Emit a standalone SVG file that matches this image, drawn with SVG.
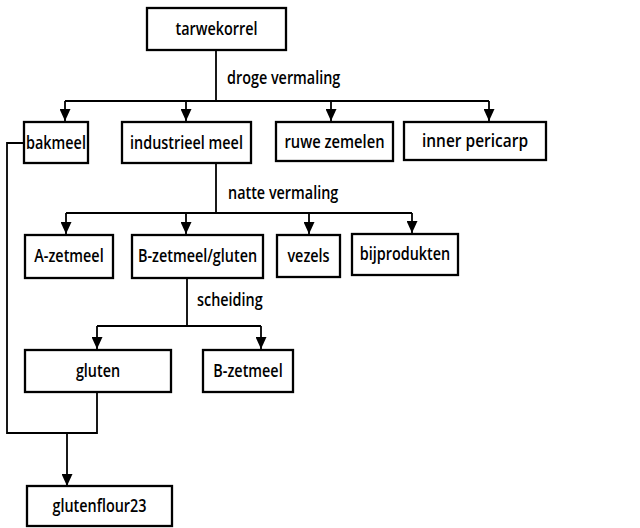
<svg xmlns="http://www.w3.org/2000/svg" width="640" height="528" viewBox="0 0 640 528">
  <style>
    .box { fill: #ffffff; stroke: #000000; stroke-width: 2.3; }
    .lbl { font-family: "Open Sans", "Noto Sans", "DejaVu Sans", sans-serif; font-size: 18px; font-weight: 600; fill: #000000; text-anchor: middle; }
    .step { font-family: "Open Sans", "Noto Sans", "DejaVu Sans", sans-serif; font-size: 18px; font-weight: 600; fill: #000000; }
    .wire { fill: none; stroke: #000000; stroke-width: 1.8; }
  </style>
  <defs>
    <marker id="arrow" viewBox="0 0 12 11" refX="12" refY="5.5" markerWidth="12" markerHeight="11" markerUnits="userSpaceOnUse" orient="auto">
      <path d="M0,0 L12,5.5 L0,11 Z" fill="#000000"/>
    </marker>
  </defs>
  <rect width="640" height="528" fill="#ffffff"/>

  <!-- connectors -->
  <g id="connectors">
    <!-- droge vermaling -->
    <path class="wire" d="M216,50 V101"/>
    <path class="wire" d="M65,101 H489"/>
    <path class="wire" d="M65,101 V121" marker-end="url(#arrow)"/>
    <path class="wire" d="M186,101 V121" marker-end="url(#arrow)"/>
    <path class="wire" d="M331,101 V121" marker-end="url(#arrow)"/>
    <path class="wire" d="M489,101 V121" marker-end="url(#arrow)"/>
    <text class="step" transform="translate(227,84) scale(0.8,1)">droge vermaling</text>
    <!-- natte vermaling -->
    <path class="wire" d="M216,163 V213"/>
    <path class="wire" d="M66,213 H412"/>
    <path class="wire" d="M66,213 V234" marker-end="url(#arrow)"/>
    <path class="wire" d="M186,213 V234" marker-end="url(#arrow)"/>
    <path class="wire" d="M309,213 V234" marker-end="url(#arrow)"/>
    <path class="wire" d="M412,213 V233" marker-end="url(#arrow)"/>
    <text class="step" transform="translate(228,199) scale(0.8,1)">natte vermaling</text>
    <!-- scheiding -->
    <path class="wire" d="M187,278 V326"/>
    <path class="wire" d="M97,326 H261"/>
    <path class="wire" d="M97,326 V349" marker-end="url(#arrow)"/>
    <path class="wire" d="M261,326 V349" marker-end="url(#arrow)"/>
    <text class="step" transform="translate(197,306) scale(0.8,1)">scheiding</text>
    <!-- bakmeel + gluten to glutenflour23 -->
    <path class="wire" d="M24,143 H7 V433 H97 V392"/>
    <path class="wire" d="M67,433 V486" marker-end="url(#arrow)"/>
  </g>

  <g id="tarwekorrel">
    <rect class="box" x="147" y="8" width="139" height="42"/>
    <text class="lbl" transform="translate(216.5,35) scale(0.8,1)">tarwekorrel</text>
  </g>
  <g id="bakmeel">
    <rect class="box" x="24" y="122" width="64" height="41"/>
    <text class="lbl" transform="translate(56,148.5) scale(0.8,1)">bakmeel</text>
  </g>
  <g id="industrieel-meel">
    <rect class="box" x="122" y="122" width="129" height="41"/>
    <text class="lbl" transform="translate(186.5,148.5) scale(0.8,1)">industrieel meel</text>
  </g>
  <g id="ruwe-zemelen">
    <rect class="box" x="276" y="122" width="117" height="39"/>
    <text class="lbl" transform="translate(334.5,147.5) scale(0.82,1)">ruwe zemelen</text>
  </g>
  <g id="inner-pericarp">
    <rect class="box" x="404" y="122" width="142" height="38"/>
    <text class="lbl" transform="translate(475,147) scale(0.86,1)">inner pericarp</text>
  </g>
  <g id="a-zetmeel">
    <rect class="box" x="25" y="235" width="88" height="43"/>
    <text class="lbl" transform="translate(69,262) scale(0.8,1)">A-zetmeel</text>
  </g>
  <g id="b-zetmeel-gluten">
    <rect class="box" x="132" y="235" width="131" height="43"/>
    <text class="lbl" transform="translate(197.5,262) scale(0.8,1)">B-zetmeel/gluten</text>
  </g>
  <g id="vezels">
    <rect class="box" x="277" y="235" width="63" height="42"/>
    <text class="lbl" transform="translate(308.5,261.5) scale(0.8,1)">vezels</text>
  </g>
  <g id="bijprodukten">
    <rect class="box" x="352" y="234" width="106" height="41"/>
    <text class="lbl" transform="translate(405,260) scale(0.8,1)">bijprodukten</text>
  </g>
  <g id="gluten">
    <rect class="box" x="25" y="350" width="146" height="42"/>
    <text class="lbl" transform="translate(98,376.5) scale(0.8,1)">gluten</text>
  </g>
  <g id="b-zetmeel">
    <rect class="box" x="203" y="350" width="90" height="42"/>
    <text class="lbl" transform="translate(248,376.5) scale(0.8,1)">B-zetmeel</text>
  </g>
  <g id="glutenflour23">
    <rect class="box" x="27" y="486" width="145" height="40"/>
    <text class="lbl" transform="translate(99.5,511.5) scale(0.8,1)">glutenflour23</text>
  </g>
</svg>
